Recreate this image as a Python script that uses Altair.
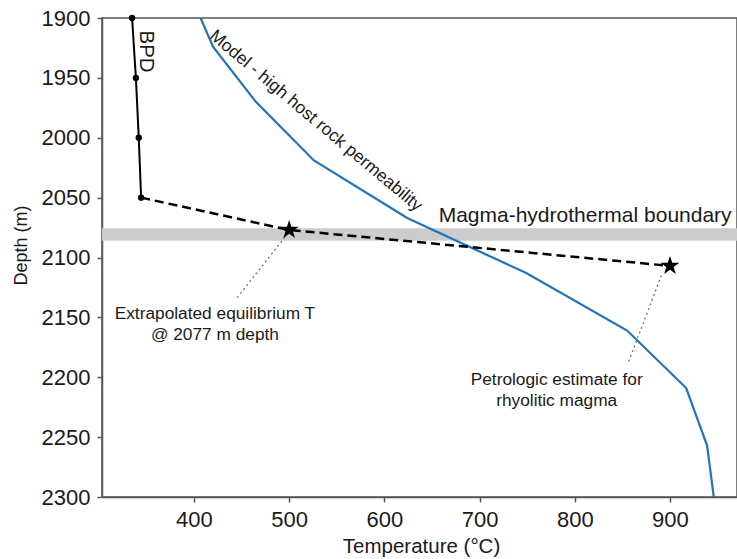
import altair as alt
import pandas as pd

# Model - high host rock permeability
model_T = [407, 420, 465, 526, 624, 749, 855, 917, 939, 946]
model_depth = [1900, 1924, 1970, 2019, 2067, 2113, 2161, 2209, 2257, 2300]

# BPD curve
bpd_T = [335, 339, 342, 344.5]
bpd_depth = [1900, 1950, 2000, 2050]

# Extrapolation (dashed)
ext_T = [344.5, 500, 900]
ext_depth = [2050, 2077, 2107]

# Stars
star_T = [500, 900]
star_depth = [2077, 2107]

# Magma-hydrothermal boundary band
band_top = [2075.5]
band_bottom = [2086]

# Annotation leader lines (dotted)
lead_T1 = [495.5, 891]
lead_d1 = [2083, 2115]
lead_T2 = [445, 856]
lead_d2 = [2134, 2188]

# Annotation texts
note_text = ["Extrapolated equilibrium T", "@ 2077 m depth",
             "Petrologic estimate for", "rhyolitic magma"]
note_T = [422, 422, 781, 781]
note_depth = [2151.5, 2168.5, 2206.5, 2224]

FONT = "Liberation Sans"
XDOM = [303.4, 970.4]
YDOM = [1900, 2300]
W, H = 635, 479

STAR = ("M0,-1L0.2245,-0.309L0.951,-0.309L0.363,0.118L0.588,0.809L0,0.382"
        "L-0.588,0.809L-0.363,0.118L-0.951,-0.309L-0.2245,-0.309Z")

xs = alt.Scale(domain=XDOM, nice=False, zero=False)
ys = alt.Scale(domain=YDOM, nice=False, zero=False, reverse=True)

xax = alt.Axis(
    title="Temperature (°C)", values=[400, 500, 600, 700, 800, 900], format="d",
    labelPadding=7, titleX=319, titleY=55, titleBaseline="alphabetic", titleFontSize=20.5)
yax = alt.Axis(
    title="Depth (m)", values=[1900, 1950, 2000, 2050, 2100, 2150, 2200, 2250, 2300], format="d",
    labelPadding=7, titleX=-81, titleY=227, titleBaseline="middle", titleAngle=270,
    titleFontSize=18)

band_df = pd.DataFrame({"top": band_top, "bottom": band_bottom})
band = alt.Chart(band_df).mark_rect(color="#cccccc").encode(
    x=alt.value(0), x2=alt.value(W),
    y=alt.Y("top:Q", scale=ys, axis=yax), y2=alt.Y2("bottom"))

model_df = pd.DataFrame({"T": model_T, "depth": model_depth})
model = alt.Chart(model_df).mark_line(color="#1f74bc", strokeWidth=2.2, clip=True).encode(
    x=alt.X("T:Q", scale=xs, axis=xax), y=alt.Y("depth:Q", scale=ys, axis=yax),
    order=alt.Order("depth:Q"))

bpd_df = pd.DataFrame({"T": bpd_T, "depth": bpd_depth})
bpd = alt.Chart(bpd_df).mark_line(color="black", strokeWidth=2).encode(
    x=alt.X("T:Q", scale=xs), y=alt.Y("depth:Q", scale=ys), order=alt.Order("depth:Q"))
bpd_pts = alt.Chart(bpd_df).mark_circle(color="black", size=40, opacity=1).encode(
    x=alt.X("T:Q", scale=xs), y=alt.Y("depth:Q", scale=ys))

ext_df = pd.DataFrame({"T": ext_T, "depth": ext_depth})
ext = alt.Chart(ext_df).mark_line(color="black", strokeWidth=2.5, strokeDash=[9, 5]).encode(
    x=alt.X("T:Q", scale=xs), y=alt.Y("depth:Q", scale=ys), order=alt.Order("depth:Q"))

lead_df = pd.DataFrame({"T": lead_T1, "depth": lead_d1, "T2": lead_T2, "depth2": lead_d2})
lead = alt.Chart(lead_df).mark_rule(color="#666666", strokeWidth=1.2, strokeDash=[2, 3]).encode(
    x=alt.X("T:Q", scale=xs), y=alt.Y("depth:Q", scale=ys),
    x2=alt.X2("T2"), y2=alt.Y2("depth2"))

star_df = pd.DataFrame({"T": star_T, "depth": star_depth})
stars = alt.Chart(star_df).mark_point(shape=STAR, filled=True, color="black", size=400, opacity=1).encode(
    x=alt.X("T:Q", scale=xs), y=alt.Y("depth:Q", scale=ys))

notes_df = pd.DataFrame({"label": note_text, "T": note_T, "depth": note_depth})
notes = alt.Chart(notes_df).mark_text(font=FONT, fontSize=17.3, color="#1a1a1a",
                                      align="center", baseline="alphabetic").encode(
    x=alt.X("T:Q", scale=xs), y=alt.Y("depth:Q", scale=ys), text=alt.Text("label:N"))

mh_df = pd.DataFrame({"label": ["Magma-hydrothermal boundary"], "T": [657], "depth": [2070.5]})
mh = alt.Chart(mh_df).mark_text(font=FONT, fontSize=21, color="#1a1a1a",
                                align="left", baseline="alphabetic").encode(
    x=alt.X("T:Q", scale=xs), y=alt.Y("depth:Q", scale=ys), text=alt.Text("label:N"))

bpd_lab_df = pd.DataFrame({"label": ["BPD"], "T": [350], "depth": [1928]})
bpd_lab = alt.Chart(bpd_lab_df).mark_text(font=FONT, fontSize=20.5, color="#1a1a1a",
                                          align="center", baseline="middle", angle=90).encode(
    x=alt.X("T:Q", scale=xs), y=alt.Y("depth:Q", scale=ys), text=alt.Text("label:N"))

model_lab_df = pd.DataFrame({"label": ["Model - high host rock permeability"], "T": [528], "depth": [1986]})
model_lab = alt.Chart(model_lab_df).mark_text(font=FONT, fontSize=17.5, color="#1a1a1a",
                                              align="center", baseline="middle", angle=40).encode(
    x=alt.X("T:Q", scale=xs), y=alt.Y("depth:Q", scale=ys), text=alt.Text("label:N"))

chart = alt.layer(band, model, bpd, bpd_pts, ext, lead, stars, notes, mh, bpd_lab, model_lab).properties(
    width=W, height=H,
    autosize=alt.AutoSizeParams(type="none"),
    padding={"left": 102, "top": 18, "right": 0, "bottom": 62},
    background="white",
).configure_view(
    stroke="#555555", strokeWidth=1.5
).configure_axis(
    grid=False, labelFontSize=22, titleFontSize=20, tickSize=5,
    domainColor="#555555", tickColor="#555555", domainWidth=1.5, tickWidth=1.5,
    labelColor="#1a1a1a", titleColor="#1a1a1a", titleFontWeight="normal",
    labelFont=FONT, titleFont=FONT
)

chart.save("out.html", embed_options={"renderer": "svg", "actions": False})
